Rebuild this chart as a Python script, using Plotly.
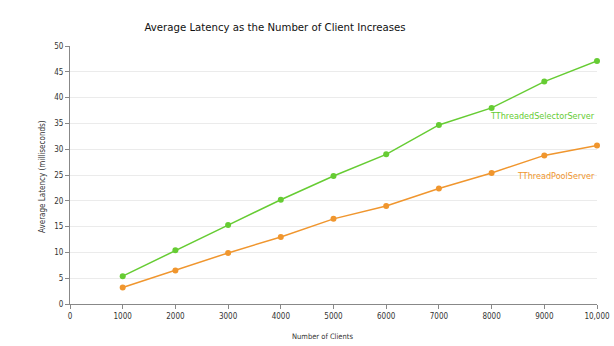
import plotly.graph_objects as go

clients = [1000, 2000, 3000, 4000, 5000, 6000, 7000, 8000, 9000, 10000]
selector_latency = [5.4, 10.4, 15.3, 20.2, 24.8, 29.0, 34.7, 38.0, 43.1, 47.1]
pool_latency = [3.2, 6.5, 9.9, 13.0, 16.5, 19.0, 22.4, 25.4, 28.8, 30.7]
x_tickvals = [0, 1000, 2000, 3000, 4000, 5000, 6000, 7000, 8000, 9000, 10000]
x_ticktext = ["0", "1000", "2000", "3000", "4000", "5000", "6000", "7000", "8000", "9000", "10,000"]
y_tickvals = [0, 5, 10, 15, 20, 25, 30, 35, 40, 45, 50]

GREEN = "#66cc33"
ORANGE = "#f0962e"
FONT = "DejaVu Sans Condensed, Liberation Sans Narrow, DejaVu Sans"

fig = go.Figure()
fig.add_trace(go.Scatter(x=clients, y=selector_latency, mode="lines+markers",
                         line=dict(color=GREEN, width=1.5),
                         marker=dict(color=GREEN, size=6),
                         name="TThreadedSelectorServer", cliponaxis=False))
fig.add_trace(go.Scatter(x=clients, y=pool_latency, mode="lines+markers",
                         line=dict(color=ORANGE, width=1.5),
                         marker=dict(color=ORANGE, size=6),
                         name="TThreadPoolServer", cliponaxis=False))

fig.add_annotation(x=10000, y=36.5, xref="x", yref="y", text="TThreadedSelectorServer",
                   showarrow=False, xanchor="right", yanchor="middle",
                   font=dict(family=FONT, size=9, color=GREEN))
fig.add_annotation(x=10000, y=24.9, xref="x", yref="y", text="TThreadPoolServer",
                   showarrow=False, xanchor="right", yanchor="middle",
                   font=dict(family=FONT, size=9, color=ORANGE))

fig.add_annotation(x=(322 - 70) / 527, y=(304 - 336) / 258, xref="paper", yref="paper",
                   text="Number of Clients", showarrow=False,
                   xanchor="center", yanchor="middle",
                   font=dict(family=FONT, size=7.5, color="#333333"))
fig.add_annotation(x=(42 - 70) / 527, y=(304 - 177) / 258, xref="paper", yref="paper",
                   text="Average Latency (milliseconds)", showarrow=False, textangle=-90,
                   xanchor="center", yanchor="middle",
                   font=dict(family=FONT, size=8, color="#333333"))

fig.update_layout(
    width=614, height=346,
    margin=dict(l=70, r=17, t=46, b=42, autoexpand=False),
    paper_bgcolor="white", plot_bgcolor="white",
    showlegend=False,
    title=dict(text="Average Latency as the Number of Client Increases",
               x=(275 - 70) / 527, xref="paper", xanchor="center",
               y=1 - 27 / 346, yref="container", yanchor="middle",
               font=dict(family=FONT, size=11.3, color="#111111")),
    font=dict(family=FONT, size=8, color="#333333"),
)
fig.update_xaxes(range=[0, 10000], tickmode="array", tickvals=x_tickvals, ticktext=x_ticktext,
                 showgrid=False, showline=True, linecolor="#888888", linewidth=1,
                 ticks="outside", ticklen=4, tickcolor="#888888", zeroline=False,
                 tickfont=dict(family=FONT, size=8, color="#333333"))
fig.update_yaxes(range=[0, 50], tickmode="array", tickvals=y_tickvals,
                 showgrid=True, gridcolor="#ebebeb", gridwidth=1,
                 showline=True, linecolor="#888888", linewidth=1,
                 ticks="outside", ticklen=4, tickcolor="#888888", zeroline=False,
                 tickfont=dict(family=FONT, size=8, color="#333333"))

fig.write_html("out.html")
